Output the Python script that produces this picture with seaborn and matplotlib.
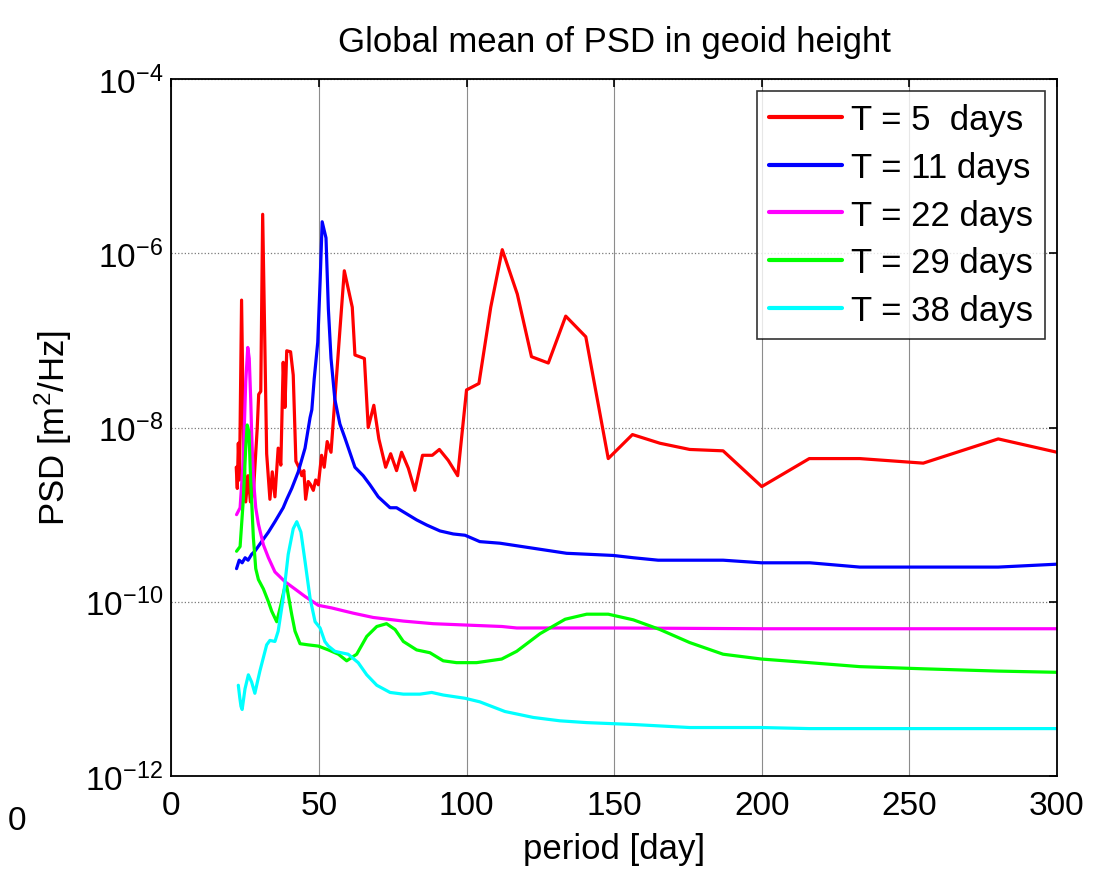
import numpy as np
import pandas as pd
import matplotlib
matplotlib.use("Agg")
import matplotlib.pyplot as plt
import seaborn as sns

# period [day] and PSD [m^2/Hz]
red_day = [22.0, 22.35, 22.7, 23.1, 23.8, 24.5, 25.2, 26.0, 26.8, 27.8, 29.1, 29.6, 30.3,
           30.95, 32.3, 33.4, 34.2, 35.1, 36.2, 37.1, 37.9, 38.5, 39.1, 40.4, 41.3, 42.2,
           43.2, 44.2, 44.9, 45.5, 46.4, 47.2, 48.1, 48.9, 49.8, 50.9, 51.8, 52.8, 54.1,
           55.4, 57.1, 58.6, 61.3, 62.2, 65.4, 66.7, 68.6, 70.3, 72.6, 74.3, 76.3, 78.0,
           80.3, 82.5, 85.1, 88.4, 90.8, 93.8, 97.0, 100.0, 104.2, 108.2, 112.1, 117.2,
           122.0, 127.7, 133.6, 140.4, 148.0, 156.2, 165.5, 175.6, 186.9, 200.0, 216.1,
           233.2, 254.7, 280.1, 300.0]
red_psd = [3.5e-9, 2.0e-9, 6.6e-9, 2.5e-9, 2.9e-7, 6.3e-9, 1.4e-9, 2.8e-9, 1.4e-9, 1.8e-9,
           9.8e-9, 2.4e-8, 2.6e-8, 2.8e-6, 5.0e-9, 1.5e-9, 3.1e-9, 1.6e-9, 5.8e-9, 3.7e-9,
           5.6e-8, 1.7e-8, 7.6e-8, 7.4e-8, 4.0e-8, 4.1e-9, 3.5e-9, 2.8e-9, 3.2e-9, 1.5e-9,
           2.4e-9, 2.2e-9, 1.9e-9, 2.5e-9, 2.2e-9, 4.8e-9, 3.5e-9, 6.9e-9, 5.2e-9, 2.1e-8,
           1.3e-7, 6.3e-7, 2.4e-7, 6.8e-8, 6.2e-8, 1.0e-8, 1.8e-8, 7.4e-9, 3.5e-9, 5.0e-9,
           3.2e-9, 5.2e-9, 3.4e-9, 1.9e-9, 4.8e-9, 4.8e-9, 5.6e-9, 4.2e-9, 2.8e-9, 2.7e-8,
           3.2e-8, 2.4e-7, 1.1e-6, 3.4e-7, 6.5e-8, 5.5e-8, 1.9e-7, 1.1e-7, 4.4e-9, 8.3e-9,
           6.6e-9, 5.6e-9, 5.4e-9, 2.1e-9, 4.4e-9, 4.4e-9, 3.9e-9, 7.4e-9, 5.2e-9]

blue_day = [22.1, 23.0, 24.0, 25.0, 26.0, 27.2, 28.3, 30.6, 32.9, 35.1, 37.9, 39.1, 40.8,
            43.0, 45.3, 47.0, 47.6, 48.4, 49.6, 50.4, 51.1, 52.4, 53.2, 54.1, 55.4, 57.1,
            58.8, 62.2, 65.0, 67.3, 70.1, 74.1, 76.3, 83.1, 86.5, 91.0, 95.5, 99.5, 104.5,
            111.3, 127.1, 133.9, 141.8, 149.7, 156.5, 164.9, 186.9, 199.9, 216.3, 233.2,
            280.1, 300.0]
blue_psd = [2.4e-10, 3.0e-10, 2.8e-10, 3.2e-10, 3.0e-10, 3.5e-10, 3.8e-10, 4.9e-10, 6.3e-10,
            8.3e-10, 1.2e-9, 1.5e-9, 2.0e-9, 3.1e-9, 5.8e-9, 1.3e-8, 1.6e-8, 3.6e-8, 9.5e-8,
            4.7e-7, 2.3e-6, 1.5e-6, 2.3e-7, 6.2e-8, 2.1e-8, 1.1e-8, 7.6e-9, 3.5e-9, 2.8e-9,
            2.2e-9, 1.6e-9, 1.2e-9, 1.2e-9, 8.7e-10, 7.6e-10, 6.5e-10, 6.0e-10, 5.8e-10,
            4.9e-10, 4.7e-10, 3.9e-10, 3.6e-10, 3.5e-10, 3.4e-10, 3.2e-10, 3.0e-10, 3.0e-10,
            2.8e-10, 2.8e-10, 2.5e-10, 2.5e-10, 2.7e-10]

magenta_day = [22.1, 23.3, 24.4, 25.2, 25.9, 26.4, 26.9, 27.2, 27.8, 28.6, 29.5, 31.2, 32.9,
               35.1, 38.5, 41.9, 45.3, 49.8, 54.3, 58.8, 61.6, 68.4, 78.6, 88.7, 100.0,
               112.0, 117.0, 150.0, 200.0, 300.0]
magenta_psd = [1.0e-9, 1.2e-9, 4.4e-9, 3.3e-8, 8.3e-8, 6.2e-8, 2.1e-8, 8.9e-9, 2.6e-9, 1.2e-9,
               7.8e-10, 4.5e-10, 3.2e-10, 2.2e-10, 1.7e-10, 1.4e-10, 1.15e-10, 9.1e-11, 8.5e-11,
               7.8e-11, 7.4e-11, 6.6e-11, 6.0e-11, 5.6e-11, 5.4e-11, 5.2e-11, 5.0e-11, 5.0e-11,
               4.9e-11, 4.9e-11]

green_day = [22.1, 23.3, 23.8, 24.4, 25.2, 25.7, 26.3, 26.9, 27.8, 28.6, 29.5, 31.2, 32.9,
             34.0, 35.7, 37.0, 38.3, 39.1, 40.8, 41.9, 43.6, 46.4, 49.8, 53.2, 56.6, 59.4,
             62.8, 66.2, 69.6, 72.9, 75.8, 78.6, 83.1, 87.6, 92.1, 96.6, 103.4, 111.9, 117.0,
             124.9, 133.4, 140.7, 148.0, 156.5, 165.5, 175.6, 186.9, 199.9, 216.1, 233.2,
             254.7, 280.1, 300.0]
green_psd = [3.8e-10, 4.3e-10, 7.6e-10, 1.5e-9, 5.8e-9, 1.07e-8, 8.9e-9, 2.4e-9, 5.4e-10,
             2.4e-10, 1.8e-10, 1.4e-10, 1.0e-10, 7.8e-11, 5.9e-11, 8.9e-11, 1.4e-10, 1.5e-10,
             7.1e-11, 4.6e-11, 3.3e-11, 3.2e-11, 3.1e-11, 2.8e-11, 2.5e-11, 2.1e-11, 2.5e-11,
             4.0e-11, 5.2e-11, 5.6e-11, 4.8e-11, 3.5e-11, 2.8e-11, 2.6e-11, 2.1e-11, 2.0e-11,
             2.0e-11, 2.2e-11, 2.7e-11, 4.3e-11, 6.3e-11, 7.2e-11, 7.2e-11, 6.2e-11, 4.8e-11,
             3.4e-11, 2.5e-11, 2.2e-11, 2.0e-11, 1.8e-11, 1.7e-11, 1.6e-11, 1.55e-11]

cyan_day = [22.7, 23.2, 23.6, 24.0, 24.96, 26.1, 27.2, 28.3, 30.0, 32.3, 33.4, 35.1, 36.2,
            37.9, 39.6, 41.3, 42.5, 43.9, 45.3, 47.0, 48.7, 50.4, 52.0, 53.2, 55.4, 57.5,
            59.9, 63.3, 66.2, 69.6, 74.1, 78.6, 84.2, 88.2, 92.1, 99.5, 104.5, 113.0, 122.6,
            131.6, 140.7, 156.5, 175.6, 199.9, 216.1, 300.0]
cyan_psd = [1.1e-11, 7.9e-12, 6.3e-12, 5.8e-12, 1.0e-11, 1.45e-11, 1.2e-11, 8.9e-12, 1.6e-11,
            3.2e-11, 3.6e-11, 3.5e-11, 4.6e-11, 1.1e-10, 3.5e-10, 6.9e-10, 8.3e-10, 6.3e-10,
            2.9e-10, 1.1e-10, 5.9e-11, 5.0e-11, 3.5e-11, 3.1e-11, 2.7e-11, 2.6e-11, 2.5e-11,
            2.0e-11, 1.45e-11, 1.1e-11, 9.1e-12, 8.7e-12, 8.7e-12, 9.1e-12, 8.5e-12, 7.8e-12,
            7.1e-12, 5.5e-12, 4.7e-12, 4.3e-12, 4.1e-12, 3.9e-12, 3.6e-12, 3.6e-12, 3.5e-12,
            3.5e-12]

labels = ["T = 5  days", "T = 11 days", "T = 22 days", "T = 29 days", "T = 38 days"]
colors = ["#ff0000", "#0000ff", "#ff00ff", "#00ff00", "#00ffff"]
series = [(red_day, red_psd), (blue_day, blue_psd), (magenta_day, magenta_psd),
          (green_day, green_psd), (cyan_day, cyan_psd)]

sns.set_style("white")
plt.rcParams['font.family'] = ['Liberation Sans', 'DejaVu Sans']
plt.rcParams['mathtext.default'] = 'regular'
plt.rcParams['axes.unicode_minus'] = False
plt.rcParams['text.color'] = 'black'
plt.rcParams['axes.labelcolor'] = 'black'
plt.rcParams['xtick.color'] = 'black'
plt.rcParams['ytick.color'] = 'black'

fig = plt.figure(figsize=(10.96, 8.70), dpi=100)
ax = fig.add_axes([0.1563, 0.1069, 0.8081, 0.8011])

for (d, p), lab, col in zip(series, labels, colors):
    sns.lineplot(x=d, y=p, ax=ax, color=col, label=lab, linewidth=2.3,
                 estimator=None, sort=False)

ax.set_yscale("log")
ax.set_xlim(0, 300)
ax.set_ylim(1e-12, 1e-4)
ax.set_xticks([0, 50, 100, 150, 200, 250, 300])
ax.set_yticks([1e-12, 1e-10, 1e-8, 1e-6, 1e-4])
ax.yaxis.set_minor_locator(matplotlib.ticker.NullLocator())

ax.grid(True, axis="x", color="#8c8c8c", linewidth=0.8, linestyle="-")
ax.grid(True, axis="y", color="#7a7a7a", linewidth=0.9, linestyle=":")
ax.tick_params(direction="in", length=6, width=1.2, top=True, right=True,
               labelsize=24, color="black", labelcolor="black")
ax.tick_params(axis="x", pad=10)
ax.tick_params(axis="y", pad=6)
for s in ax.spines.values():
    s.set_color("black")
    s.set_linewidth(1.3)

ax.set_title("Global mean of PSD in geoid height", fontsize=25, pad=20, color="black")
ax.set_xlabel("period [day]", fontsize=25, labelpad=8)
ax.set_ylabel("PSD [m$^2$/Hz]", fontsize=25, labelpad=8)

leg = ax.legend(loc="upper right", fontsize=25, frameon=True, fancybox=False,
                edgecolor="black", handlelength=2.1, handletextpad=0.25,
                labelspacing=0.42, borderaxespad=0.35, borderpad=0.35)
leg.get_frame().set_linewidth(1.2)
for line in leg.get_lines():
    line.set_linewidth(3)
for t in leg.get_texts():
    t.set_color("black")

# stray label at the lower left of the source picture
fig.text(8 / 1096, 1 - 822 / 870, "0", fontsize=24, ha="left", va="center")

fig.savefig("out.png", dpi=100)
